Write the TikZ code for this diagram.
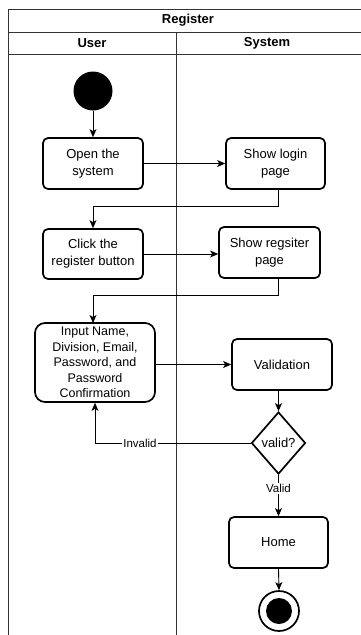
\documentclass[tikz,border=0pt]{standalone}
\usepackage{fontspec}
\setmainfont{Liberation Sans}
\usetikzlibrary{shapes.geometric,arrows.meta,calc}

\tikzset{
  lane/.style={draw=black!80, line width=1pt},
  act/.style={draw, line width=1.7pt, rounded corners=5pt, align=center,
    font=\fontsize{13}{17}\selectfont, inner sep=0pt},
  flow/.style={line width=0.9pt, -{Stealth[length=8pt,width=7pt,inset=2pt]}},
  lbl/.style={fill=white, inner sep=1pt, font=\fontsize{11.5}{13}\selectfont},
  hdr/.style={font=\bfseries\fontsize{13}{15}\selectfont}
}

\begin{document}
\begin{tikzpicture}[x=1pt,y=-1pt]
  \useasboundingbox (0,0) rectangle (361,635);
  \begin{scope}
    \clip (0,0) rectangle (361,635);
    % swimlane frame
    \draw[lane] (8,640) -- (8,9) -- (370,9);
    \draw[lane] (8,32) -- (370,32);
    \draw[lane] (8,54) -- (370,54);
    \draw[lane] (176,32) -- (176,640);
  \end{scope}
  \node[hdr] (title) at (188,20) {Register};
  \node[hdr] (luser) at (92,43) {User};
  \node[hdr] (lsys) at (267,43) {System};

  % activities
  \node[circle, fill=black, minimum size=39pt, inner sep=0pt] (start) at (93,91) {};
  \node[act, minimum width=100pt, minimum height=51pt] (open) at (93,163.5) {Open the\\system};
  \node[act, minimum width=99pt, minimum height=51pt] (login) at (275.5,163.5) {Show login\\page};
  \node[act, minimum width=100pt, minimum height=50pt] (click) at (93,254) {Click the\\register button};
  \node[act, minimum width=101pt, minimum height=51pt] (reg) at (269.5,252.5) {Show regsiter\\page};
  \node[act, rounded corners=10pt, minimum width=120pt, minimum height=79pt,
        font=\fontsize{12.5}{15.5}\selectfont] (input) at (95,362.5)
        {Input Name,\\Division, Email,\\Password, and\\Password\\Confirmation};
  \node[act, minimum width=100pt, minimum height=51pt] (val) at (282,364.5) {Validation};
  \node[diamond, draw, line width=1.7pt, inner sep=0pt, minimum width=54pt,
        minimum height=62pt, aspect=0.87, font=\fontsize{13}{15}\selectfont]
        (dia) at (278.5,443) {valid?};
  \node[act, minimum width=99pt, minimum height=51pt] (home) at (278.5,542.5) {Home};
  \node[circle, draw, line width=1.7pt, minimum size=40pt, inner sep=0pt] (end) at (279,611) {};
  \node[circle, fill=black, minimum size=26pt, inner sep=0pt] (endin) at (end.center) {};

  % control flow
  \draw[flow] (start) -- (open);
  \draw[flow] (open) -- (login);
  \draw[flow] ([xshift=2.5pt]login.south) |- (93,206) -- (click.north);
  \draw[flow] (click) -- (click -| reg.west);
  \draw[flow] ([xshift=8.5pt]reg.south) |- (93,295) -- (93,323);
  \draw[flow] (input.east |- val.west) -- (val.west);
  \draw[flow] (val.south -| dia.north) -- (dia.north);
  \draw[flow] (dia.west) -| (input.south);
  \node[lbl] (invlbl) at (140,443) {Invalid};
  \draw[flow] (dia.south) -- (home.north) node[lbl, pos=0.33] {Valid};
  \draw[flow] (home.south) -- (end.north);
\end{tikzpicture}
\end{document}
